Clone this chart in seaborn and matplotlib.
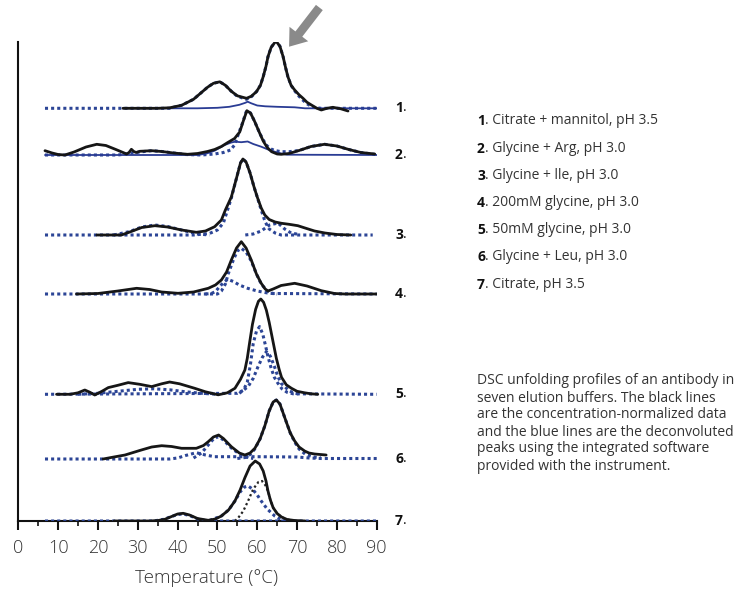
import numpy as np
import matplotlib
matplotlib.use("Agg")
import matplotlib.pyplot as plt
import seaborn as sns

# ---------------- data (temperature in °C, signal in arbitrary units above each baseline) -------------
buffers = ["Citrate + mannitol, pH 3.5", "Glycine + Arg, pH 3.0", "Glycine + lle, pH 3.0",
           "200mM glycine, pH 3.0", "50mM glycine, pH 3.0", "Glycine + Leu, pH 3.0", "Citrate, pH 3.5"]
offsets = [412.7, 366, 286, 227, 126.7, 62, 0]
caption_lines = ["DSC unfolding profiles of an antibody in",
                 "seven elution buffers. The black lines",
                 "are the concentration-normalized data",
                 "and the blue lines are the deconvoluted",
                 "peaks using the integrated software",
                 "provided with the instrument."]
x_ticks = [0, 10, 20, 30, 40, 50, 60, 70, 80, 90]

# profile 1
p1_T = [26.3, 30, 35, 38, 41, 44, 47.5, 49, 50.6, 52, 53.5, 55, 57.3, 58.5, 59.8, 60.8, 61.5, 62.2, 62.7, 63.5, 64.7,
        65.7, 66.5, 67.1, 67.7, 68.5, 69.4, 70.5, 71.5, 72.5, 73.6, 75, 76.1, 77.5, 79, 81, 82.8]
p1_h = [0, 0, 0, 0.5, 3, 9, 21, 25, 26.5, 23, 17, 12.5, 10, 12, 16.6, 23, 31.6, 42, 51.6, 61, 67.3,
        62, 51.6, 41, 31.6, 23, 18.3, 13.5, 10, 6, 3.3, 0, -1.7, 0, 1, -0.5, -2.7]
p1_fit_T = [6.7, 38, 41, 44, 47.5, 49, 50.6, 52, 53.5, 55, 57.3, 58.5, 59.8, 60.8, 61.5, 62.2, 62.7, 63.5, 64.7,
            65.7, 66.5, 67.1, 67.7, 68.5, 69.4, 70.5, 71.5, 72.5, 74, 76, 90]
p1_fit_h = [0, 0, 3, 9, 21, 25, 26.5, 23, 17, 12, 9, 11.5, 16.6, 23, 31.6, 42, 51.6, 61, 67.3,
            62, 51.6, 41, 31.6, 23, 17.5, 12, 8, 4.5, 1, 0, 0]
p1_peak_T = [26.3, 45, 50, 53, 55.5, 57, 57.6, 58.5, 60, 62, 65, 69.4, 72, 90]
p1_peak_h = [0, 0, 0.5, 1.5, 3.5, 5.5, 6.6, 5, 2.8, 2, 1.5, 1, 0, 0]

# profile 2
p2_T = [6.7, 8.5, 10, 11.7, 14, 17, 19.7, 22, 24.5, 27.2, 27.8, 28.4, 29.0, 29.6, 30.5, 33.5, 36, 39, 42.5, 45,
        47.5, 49.3, 51, 52.6, 54.3, 55.6, 56.5, 57.4, 58.3, 59.3, 60.6, 61.5, 62.5, 63.6, 65, 66, 68, 70.5, 73.5,
        76.9, 80, 83, 86, 89.5]
p2_h = [4.3, 2, 0.5, 0, 3, 8, 10.7, 9.5, 5.5, 1, 2.5, 5.7, 3.5, 2.5, 3.7, 4.3, 3.5, 2, 0.7, 1.5,
        3.5, 5.5, 8.5, 12.5, 16.5, 23, 34, 44.3, 42, 34, 22, 14, 7.5, 3.3, 1, 0.7, 1.5, 4.5, 8.5,
        10.7, 9, 5.5, 2.5, 1]
p2_fit_T = [6.7, 25, 28, 30.5, 33.5, 36, 39, 42, 46, 49.3, 51.5, 53.3, 54.3, 55, 56.3, 57.2, 57.6, 58.3, 59.3, 60.6,
            61.5, 62.5, 63.5, 64.4, 66, 68, 70.5, 73.5, 76.9, 80, 83, 86, 90]
p2_fit_h = [0, 0, 1.5, 3, 4.3, 3.5, 2, 0.5, 0, 1, 2.5, 5, 10, 18, 32, 43, 44, 42, 34, 22,
            15, 9, 6, 4.5, 3.3, 3.3, 4.5, 8.5, 10.7, 9, 5.5, 2.5, 0.3]
p2_peak_T = [6.7, 45, 47.3, 49.3, 51.8, 53.5, 54.4, 56, 57.6, 59, 61, 62.7, 64.4, 66, 67.5, 90]
p2_peak_h = [0, 0, 1.5, 4.3, 10, 12.5, 13.3, 12.8, 13.5, 11, 8.3, 5.5, 3.3, 1.5, 0.3, 0]

# profile 3
p3_T = [19.7, 25.9, 28, 31, 34.3, 37.5, 41, 44.7, 47, 49.3, 51, 52, 53.5, 54.8, 55.8, 56.4, 57.2, 58.2, 59.2, 60,
        61, 61.9, 63, 64.5, 66.1, 68, 70.2, 72, 74.4, 77, 80, 83.5]
p3_h = [0, 0, 3, 7.5, 9.3, 8, 5, 2.7, 4, 8.3, 15, 25, 38, 57, 72, 76, 73, 62, 48, 38,
        27, 20, 15.5, 13, 11.7, 10.7, 9.3, 7, 4, 2, 0.5, 0]
p3_fitA_T = [6.7, 44, 48, 50, 51.5, 53.5, 54.8, 55.8, 56.4, 57.2, 58.2, 59.2, 60, 61, 62, 63, 64.5, 66, 89]
p3_fitA_h = [0, 0, 1.5, 5, 12, 37, 57, 72, 76, 73, 62, 48, 38, 25, 13, 6, 2, 0, 0]
p3_fitB_T = [57, 59, 61, 63.1, 65.2, 66.9, 68.5, 70.5]
p3_fitB_h = [0, 1, 4, 10, 12, 6, 2, 0.5]
p3_fitC_T = [24, 28, 31, 34.3, 37.5, 41, 45, 48]
p3_fitC_h = [0, 3.5, 8, 10, 8.5, 5, 1, 0]

# profile 4
p4_T = [14.6, 20, 25, 29.7, 33, 36, 40.1, 44, 47.7, 49.5, 51, 52.3, 53.5, 54.8, 56, 57.2, 58.5, 59.8, 61, 62,
        62.7, 64, 66, 69.4, 72.5, 76.1, 79.4, 82, 90]
p4_h = [0, 0.5, 3, 5.7, 4.5, 2, 0.7, 2, 5.7, 9, 14, 22, 34, 46, 52.3, 46, 34, 20, 10.7, 5,
        3, 5, 8.5, 10.7, 8, 3.3, 0.5, 0, 0]
p4_fitA_T = [6.7, 50, 51, 52, 52.7, 54, 55, 56, 57.2, 58.5, 59.8, 61, 62.5, 64, 90]
p4_fitA_h = [0, 0, 3, 10, 20, 34, 43, 45.7, 42, 33, 20, 10, 3, 0.5, 0]
p4_fitB_T = [47, 48.5, 49.5, 50.5, 51.5, 52.6, 54, 55.5, 57.6, 60, 62.6, 65]
p4_fitB_h = [0, 0.5, 2.5, 7, 11.5, 14.7, 12.5, 9, 5.7, 3, 1, 0]

# profile 5
p5_T = [9.6, 13, 15, 16.7, 18, 19.2, 21, 22.6, 25, 27.6, 30.5, 33.5, 36, 38, 40.5, 44.3, 47, 50.2, 52.5, 54.4,
        55.8, 56.9, 57.5, 58.1, 58.8, 59.6, 60.3, 60.9, 61.6, 62.3, 63, 63.6, 64.2, 64.8, 65.5, 66.1, 67.3, 68.6,
        70, 71.9, 73.5, 75.2]
p5_h = [0, 0, 1.5, 4.3, 2, -0.7, 3, 6.7, 9, 11.7, 10, 7.7, 10.5, 12.3, 10.5, 6, 2.5, -0.5, 1.5, 6,
        15, 24.3, 36, 52, 70, 85, 93, 95.3, 92, 84, 72, 60, 48, 36, 25, 17, 9.5, 6,
        3, 1.5, 0.5, 0]
p5_fitA_T = [6.7, 55, 56.5, 57.5, 58.3, 59, 59.8, 60.6, 61.4, 62, 62.7, 63.5, 64.3, 65.2, 66.2, 67.5, 69, 90]
p5_fitA_h = [0, 1, 4, 12, 30, 51, 63, 67.7, 60, 50, 37.7, 26, 17, 11, 5.5, 2, 0.5, 0]
p5_fitB_T = [55.5, 57.7, 59, 60.2, 61.3, 62.3, 63.3, 64.3, 65.2, 66, 66.9, 68, 69.4, 71]
p5_fitB_h = [1, 7.7, 16, 27.7, 37, 42.7, 38, 28, 17.7, 11, 7.7, 3.5, 1, 0]
p5_fitC_T = [15, 20, 25, 30, 34, 38, 42, 46, 50]
p5_fitC_h = [0, 1, 3, 5, 5.5, 4.5, 2.5, 1, 0]

# profile 6
p6_T = [21.3, 24, 26.8, 30.9, 33.5, 36, 38.5, 41, 44.7, 46.5, 47.7, 49, 50.3, 51.5, 53.5, 55.5, 56.9, 58.2, 59.4,
        60.7, 61.9, 63, 64, 64.8, 65.7, 66.5, 67.3, 68.3, 69.4, 70.5, 71.9, 73, 74.4, 77.3]
p6_h = [0, 2, 4, 9, 12, 13.3, 12.5, 10.7, 10.7, 13.5, 17.3, 22, 24, 20.5, 12.3, 6, 4, 6, 10.7,
        20, 33, 48, 57, 59, 55, 46, 37, 26, 18, 12, 8, 6, 5, 4]
p6_fitA_T = [6.7, 38, 40, 42, 44.7, 47, 49.3, 52, 60, 70, 73, 76, 90]
p6_fitA_h = [0, 0, 1, 3.5, 6.3, 4, 2.3, 2.3, 2.3, 2, 1, 0.5, 0.5]
p6_fitB_T = [44, 46, 47.7, 49, 50.3, 51.5, 53.5, 55.5, 57, 59]
p6_fitB_h = [1, 6, 14, 20, 22.5, 19, 11, 5, 2, 0.5]
p6_fitC_T = [55, 57, 58.2, 59.4, 60.7, 61.9, 63, 64, 64.8, 65.7, 66.5, 67.3, 68.3, 69.4, 70.5, 72, 74, 76]
p6_fitC_h = [0.5, 1.5, 4.5, 10, 20, 33, 48, 57, 59, 55, 46, 37, 26, 17, 10, 5, 2, 1]

# profile 7
p7_T = [24, 33, 35.1, 36.8, 38.5, 40, 41.4, 43, 45, 47.7, 49.5, 51, 52.8, 54.4, 55.7, 56.9, 58.2, 59.5, 60.6,
        61.5, 62.2, 62.7, 63.3, 64, 65, 66.1, 67.5, 69.4, 72]
p7_h = [0, 0, 0.5, 1.7, 4.5, 7, 7.7, 6, 2.5, 0.7, 2, 5, 11, 20, 31, 43.3, 55, 60, 57,
        50, 40, 30, 21, 13.3, 7.5, 4, 1.5, 0.5, 0]
p7_fitA_T = [6.7, 34, 36.5, 38.5, 40, 41.4, 43, 45, 47.5, 90]
p7_fitA_h = [0, 0, 1.7, 4.5, 6.5, 7, 5.5, 2, 0, 0]
p7_fitB_T = [48, 51, 52.8, 54.4, 55.7, 56.8, 57.7, 58.8, 60, 61, 62.5, 64.4, 65.5, 66.9, 68]
p7_fitB_h = [0.5, 5, 11, 20, 29, 34, 35, 32, 26, 20, 12, 5, 2.5, 0.5, 0]
p7_comp_T = [54.4, 55.2, 56.5, 57.7, 59, 60.3, 61.2, 62, 62.7, 63.3, 64, 65, 66.1, 67.5, 69.4]
p7_comp_h = [0, 3, 10, 20, 32, 39, 40, 36, 30, 21, 13.3, 7.5, 4, 1.5, 0.5]

# ---------------- styling ----------------
sns.set_theme(style="white")
plt.rcParams["font.family"] = ["Open Sans", "DejaVu Sans"]
TXT = "#333333"
BLACK = dict(color="#161616", lw=2.0, zorder=6, solid_joinstyle="round", solid_capstyle="round")
DOT = dict(color="#2c4596", lw=2.2, linestyle=(0, (1, 1)), zorder=4)
BSOL = dict(color="#2a3c94", lw=1.3, zorder=5)
KDOT = dict(color="#222222", lw=1.6, linestyle=(0, (1, 1.2)), zorder=5)

fig = plt.figure(figsize=(7.45, 5.9), dpi=100)
fig.patch.set_facecolor("white")
ax = fig.add_axes([18.3 / 745, 69 / 590, 358.4 / 745, 479 / 590])
ax.set_facecolor("white")


def line(T, h, off, style):
    sns.lineplot(x=np.asarray(T, float), y=np.asarray(h, float) + off, ax=ax,
                 sort=False, estimator=None, legend=False, **style)


o = offsets
line(p1_fit_T, p1_fit_h, o[0], DOT)
line(p1_peak_T, p1_peak_h, o[0], BSOL)
line(p1_T, p1_h, o[0], BLACK)

line(p2_fit_T, p2_fit_h, o[1], DOT)
line(p2_peak_T, p2_peak_h, o[1], BSOL)
line(p2_T, p2_h, o[1], BLACK)

line(p3_fitA_T, p3_fitA_h, o[2], DOT)
line(p3_fitB_T, p3_fitB_h, o[2], DOT)
line(p3_fitC_T, p3_fitC_h, o[2], DOT)
line(p3_T, p3_h, o[2], BLACK)

line(p4_fitA_T, p4_fitA_h, o[3], DOT)
line(p4_fitB_T, p4_fitB_h, o[3], DOT)
line(p4_T, p4_h, o[3], BLACK)

line(p5_fitA_T, p5_fitA_h, o[4], DOT)
line(p5_fitB_T, p5_fitB_h, o[4], DOT)
line(p5_fitC_T, p5_fitC_h, o[4], DOT)
line(p5_T, p5_h, o[4], BLACK)

line(p6_fitA_T, p6_fitA_h, o[5], DOT)
line(p6_fitB_T, p6_fitB_h, o[5], DOT)
line(p6_fitC_T, p6_fitC_h, o[5], DOT)
line(p6_T, p6_h, o[5], BLACK)

line(p7_fitA_T, p7_fitA_h, o[6], DOT)
line(p7_fitB_T, p7_fitB_h, o[6], DOT)
line(p7_comp_T, p7_comp_h, o[6], KDOT)
line(p7_T, p7_h, o[6], BLACK)

# axes
ax.set_xlim(0, 90)
ax.set_ylim(0, 479)
for s in ["top", "right"]:
    ax.spines[s].set_visible(False)
for s in ["left", "bottom"]:
    ax.spines[s].set_color("#111111")
    ax.spines[s].set_linewidth(1.5)
ax.set_yticks([])
ax.set_xticks(x_ticks)
ax.set_xticklabels([str(t) for t in x_ticks], fontweight=300)
ax.set_xticks([t + 5 for t in x_ticks[:-1]], minor=True)
ax.tick_params(axis="x", which="major", direction="out", length=6.5, width=1.5, color="#111111",
               labelsize=13, labelcolor=TXT, pad=6.5, bottom=True)
ax.tick_params(axis="x", which="minor", direction="out", length=3.8, width=1.2, color="#111111", bottom=True)
ax.set_xlabel("Temperature (°C)", fontsize=13.5, color=TXT, fontweight=300)
ax.xaxis.set_label_coords(0.524, -0.100)
ax.set_ylabel("")

# arrow
ax.annotate("", xy=(68.0, 474.3), xytext=(75.6, 513.5), annotation_clip=False,
            arrowprops=dict(arrowstyle="simple,head_length=1.15,head_width=1.7,tail_width=0.62",
                            mutation_scale=10, color="#8a8a8a", shrinkA=0, shrinkB=0, lw=0))

# right-hand profile numbers
for i, off in enumerate(offsets):
    t = ax.text(94.6, off, str(i + 1), fontsize=10, fontweight="bold", color="#111111",
                va="center", ha="left", clip_on=False)
    ax.annotate(".", xy=(1, 0), xycoords=t, va="bottom", ha="left", fontsize=10, color="#111111")

# legend list
leg_y = [121, 149, 176, 203, 230, 257, 285]
for i, (name, y) in enumerate(zip(buffers, leg_y)):
    t = fig.text(477 / 745, 1 - y / 590, str(i + 1), fontsize=10, fontweight="bold", color="#111111",
                 va="center", ha="left")
    ax.annotate(". " + name, xy=(1, 0), xycoords=t, va="bottom", ha="left", fontsize=10, color=TXT)

# caption
cap_y = [381, 398, 415, 432, 449, 466]
for line_txt, y in zip(caption_lines, cap_y):
    fig.text(477 / 745, 1 - y / 590, line_txt, fontsize=10, color=TXT, va="center", ha="left")

fig.savefig("out.png", dpi=100, facecolor="white")
